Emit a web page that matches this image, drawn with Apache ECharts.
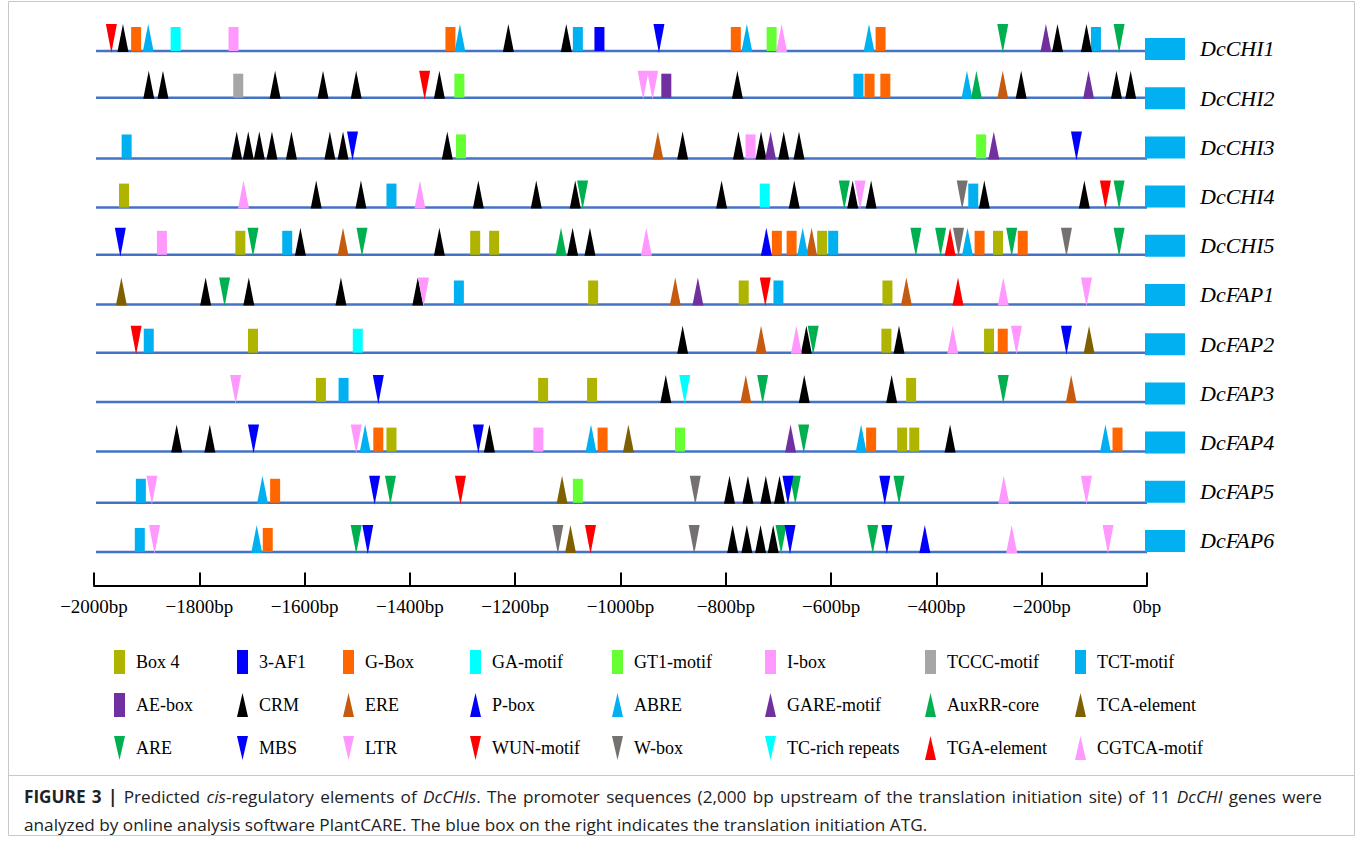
<!DOCTYPE html>
<html><head><meta charset="utf-8">
<script src="https://cdn.jsdelivr.net/npm/echarts@6/dist/echarts.min.js"></script>
<style>html,body{margin:0;padding:0;background:#fff}#c{width:1360px;height:851px}</style>
</head><body><div id="c"></div>
<script>
// ---------------- DATA ----------------
const genes = ['DcCHI1','DcCHI2','DcCHI3','DcCHI4','DcCHI5','DcFAP1','DcFAP2','DcFAP3','DcFAP4','DcFAP5','DcFAP6'];
const elementTypes = ['Box 4','3-AF1','G-Box','GA-motif','GT1-motif','I-box','TCCC-motif','TCT-motif',
  'AE-box','CRM','ERE','P-box','ABRE','GARE-motif','AuxRR-core','TCA-element',
  'ARE','MBS','LTR','WUN-motif','W-box','TC-rich repeats','TGA-element','CGTCA-motif'];
const tickValues = [-2000,-1800,-1600,-1400,-1200,-1000,-800,-600,-400,-200,0];
const tickLabels = ['\u22122000bp','\u22121800bp','\u22121600bp','\u22121400bp','\u22121200bp','\u22121000bp','\u2212800bp','\u2212600bp','\u2212400bp','\u2212200bp','0bp'];

const DcCHI1 = [[-1967,'WUN-motif'],[-1945,'CRM'],[-1920,'G-Box'],[-1897,'ABRE'],[-1845,'GA-motif'],[-1735,'I-box'],[-1323,'G-Box'],[-1305,'ABRE'],[-1213,'CRM'],[-1103,'CRM'],[-1081,'TCT-motif'],[-1040,'3-AF1'],[-927,'MBS'],[-781,'G-Box'],[-760,'ABRE'],[-713,'GT1-motif'],[-694,'CGTCA-motif'],[-528,'ABRE'],[-506,'G-Box'],[-274,'ARE'],[-192,'GARE-motif'],[-170,'CRM'],[-115,'CRM'],[-97,'TCT-motif'],[-53,'ARE']];
const DcCHI2 = [[-1896,'CRM'],[-1869,'CRM'],[-1726,'TCCC-motif'],[-1656,'CRM'],[-1565,'CRM'],[-1502,'CRM'],[-1372,'WUN-motif'],[-1344,'CRM'],[-1306,'GT1-motif'],[-957,'LTR'],[-939,'LTR'],[-913,'AE-box'],[-778,'CRM'],[-548,'TCT-motif'],[-527,'G-Box'],[-497,'G-Box'],[-342,'ABRE'],[-324,'AuxRR-core'],[-274,'ERE'],[-239,'CRM'],[-111,'GARE-motif'],[-58,'CRM'],[-31,'CRM']];
const DcCHI3 = [[-1938,'TCT-motif'],[-1729,'CRM'],[-1707,'CRM'],[-1686,'CRM'],[-1662,'CRM'],[-1625,'CRM'],[-1552,'CRM'],[-1527,'CRM'],[-1509,'MBS'],[-1329,'CRM'],[-1303,'GT1-motif'],[-929,'ERE'],[-882,'CRM'],[-776,'CRM'],[-753,'I-box'],[-733,'CRM'],[-715,'GARE-motif'],[-690,'CRM'],[-661,'CRM'],[-315,'GT1-motif'],[-291,'GARE-motif'],[-134,'MBS']];
const DcCHI4 = [[-1943,'Box 4'],[-1716,'CGTCA-motif'],[-1578,'CRM'],[-1493,'CRM'],[-1435,'TCT-motif'],[-1381,'CGTCA-motif'],[-1270,'CRM'],[-1160,'CRM'],[-1086,'CRM'],[-1072,'ARE'],[-808,'CRM'],[-726,'GA-motif'],[-670,'CRM'],[-575,'ARE'],[-559,'CRM'],[-545,'LTR'],[-524,'CRM'],[-351,'W-box'],[-330,'TCT-motif'],[-309,'CRM'],[-119,'CRM'],[-79,'WUN-motif'],[-53,'ARE']];
const DcCHI5 = [[-1950,'MBS'],[-1871,'I-box'],[-1722,'Box 4'],[-1698,'ARE'],[-1633,'TCT-motif'],[-1608,'CRM'],[-1527,'ERE'],[-1491,'ARE'],[-1344,'CRM'],[-1276,'Box 4'],[-1240,'Box 4'],[-1113,'AuxRR-core'],[-1091,'CRM'],[-1058,'CRM'],[-951,'CGTCA-motif'],[-723,'P-box'],[-703,'G-Box'],[-675,'G-Box'],[-654,'ABRE'],[-637,'ERE'],[-617,'Box 4'],[-596,'TCT-motif'],[-439,'ARE'],[-392,'ARE'],[-374,'TGA-element'],[-358,'W-box'],[-341,'ABRE'],[-318,'G-Box'],[-283,'Box 4'],[-257,'ARE'],[-236,'G-Box'],[-153,'W-box'],[-53,'ARE']];
const DcFAP1 = [[-1948,'TCA-element'],[-1788,'CRM'],[-1752,'ARE'],[-1706,'CRM'],[-1531,'CRM'],[-1385,'CRM'],[-1374,'LTR'],[-1307,'TCT-motif'],[-1052,'Box 4'],[-896,'ERE'],[-853,'GARE-motif'],[-766,'Box 4'],[-725,'WUN-motif'],[-700,'TCT-motif'],[-493,'Box 4'],[-457,'ERE'],[-359,'TGA-element'],[-273,'CGTCA-motif'],[-115,'LTR']];
const DcFAP2 = [[-1920,'WUN-motif'],[-1896,'TCT-motif'],[-1698,'Box 4'],[-1499,'GA-motif'],[-882,'CRM'],[-733,'ERE'],[-666,'CGTCA-motif'],[-647,'CRM'],[-634,'ARE'],[-495,'Box 4'],[-471,'CRM'],[-369,'CGTCA-motif'],[-300,'Box 4'],[-274,'G-Box'],[-248,'LTR'],[-153,'MBS'],[-110,'TCA-element']];
const DcFAP3 = [[-1731,'LTR'],[-1569,'Box 4'],[-1526,'TCT-motif'],[-1460,'MBS'],[-1147,'Box 4'],[-1054,'Box 4'],[-914,'CRM'],[-878,'TC-rich repeats'],[-762,'ERE'],[-730,'ARE'],[-651,'CRM'],[-485,'CRM'],[-448,'Box 4'],[-273,'ARE'],[-144,'ERE']];
const DcFAP4 = [[-1843,'CRM'],[-1780,'CRM'],[-1697,'MBS'],[-1502,'LTR'],[-1485,'ABRE'],[-1460,'G-Box'],[-1435,'Box 4'],[-1270,'MBS'],[-1249,'CRM'],[-1156,'I-box'],[-1056,'ABRE'],[-1034,'G-Box'],[-985,'TCA-element'],[-887,'GT1-motif'],[-677,'GARE-motif'],[-652,'ARE'],[-543,'ABRE'],[-524,'G-Box'],[-465,'Box 4'],[-442,'Box 4'],[-374,'CRM'],[-79,'ABRE'],[-56,'G-Box']];
const DcFAP5 = [[-1911,'TCT-motif'],[-1890,'LTR'],[-1680,'ABRE'],[-1656,'G-Box'],[-1467,'MBS'],[-1437,'ARE'],[-1304,'WUN-motif'],[-1111,'TCA-element'],[-1081,'GT1-motif'],[-858,'W-box'],[-793,'CRM'],[-758,'CRM'],[-724,'CRM'],[-698,'CRM'],[-682,'MBS'],[-668,'ARE'],[-498,'MBS'],[-471,'ARE'],[-272,'CGTCA-motif'],[-115,'LTR']];
const DcFAP6 = [[-1913,'TCT-motif'],[-1885,'LTR'],[-1691,'ABRE'],[-1670,'G-Box'],[-1502,'ARE'],[-1480,'MBS'],[-1119,'W-box'],[-1095,'TCA-element'],[-1057,'WUN-motif'],[-860,'W-box'],[-787,'CRM'],[-760,'CRM'],[-734,'CRM'],[-710,'CRM'],[-695,'ARE'],[-678,'MBS'],[-521,'ARE'],[-494,'MBS'],[-422,'P-box'],[-257,'CGTCA-motif'],[-74,'LTR']];
const geneElements = [DcCHI1,DcCHI2,DcCHI3,DcCHI4,DcCHI5,DcFAP1,DcFAP2,DcFAP3,DcFAP4,DcFAP5,DcFAP6];

// caption (runs: [text, style]; b = bold, i = italic, n = normal)
const captionLine1 = [
  [['FIGURE','b']],[['3','b']],[['|','b']],[['Predicted','n']],[['cis','i'],['-regulatory','n']],[['elements','n']],[['of','n']],
  [['DcCHIs','i'],['.','n']],[['The','n']],[['promoter','n']],[['sequences','n']],[['(2,000','n']],[['bp','n']],[['upstream','n']],
  [['of','n']],[['the','n']],[['translation','n']],[['initiation','n']],[['site)','n']],[['of','n']],[['11','n']],[['DcCHI','i']],[['genes','n']],[['were','n']]
];
const captionLine2 = 'analyzed by online analysis software PlantCARE. The blue box on the right indicates the translation initiation ATG.';

// ---------------- STYLE / LAYOUT ----------------
const COLORS = {
  'Box 4':'#AEB400','3-AF1':'#0000FF','G-Box':'#FF6600','GA-motif':'#00FFFF','GT1-motif':'#66FF33','I-box':'#FF99FF','TCCC-motif':'#A6A6A6','TCT-motif':'#00B0F0',
  'AE-box':'#7030A0','CRM':'#000000','ERE':'#C55A11','P-box':'#0000FF','ABRE':'#00B0F0','GARE-motif':'#7030A0','AuxRR-core':'#00B050','TCA-element':'#7F6000',
  'ARE':'#00B050','MBS':'#0000FF','LTR':'#FF99FF','WUN-motif':'#FF0000','W-box':'#767171','TC-rich repeats':'#00FFFF','TGA-element':'#FF0000','CGTCA-motif':'#FF99FF'
};
function shapeOf(i){ if(i<=8) return 'rect'; if(i>=16 && i<=21) return 'down'; return 'up'; }
const lineOffset = [2,-0.5,11,11,9,9.5,8.5,8.5,9,11,11]; // px offset of each promoter line from its label row
const RW = 10, RH = 24, TW = 11, TH = 27;
const SERIF = "'Liberation Serif','Times New Roman',serif";
const CAP_SIZE = 17.2;
const CAP_FAMILY = "'Open Sans',sans-serif";
const CAP_FONTS = {
  b: 'bold ' + CAP_SIZE + 'px ' + CAP_FAMILY,
  i: 'italic ' + CAP_SIZE + 'px ' + CAP_FAMILY,
  n: CAP_SIZE + 'px ' + CAP_FAMILY
};

const ICONS = {
  rect: 'rect',
  up: 'path://M5.5,0L11,24L0,24Z',
  down: 'path://M0,0L11,0L5.5,24Z'
};

function markRenderer(shape, color){
  return function(params, api){
    const g = api.value(1);
    const p = api.coord([api.value(0), g]);
    const x = p[0], y = p[1] + lineOffset[g];
    if (shape === 'rect') {
      return {type:'rect', shape:{x:x-RW/2, y:y-RH, width:RW, height:RH}, style:{fill:color}};
    }
    if (shape === 'up') {
      return {type:'polygon', shape:{points:[[x-TW/2,y+1],[x+TW/2,y+1],[x,y-TH]]}, style:{fill:color}};
    }
    return {type:'polygon', shape:{points:[[x-TW/2,y-TH],[x+TW/2,y-TH],[x,y+2]]}, style:{fill:color}};
  };
}

const series = [];
series.push({
  type:'custom', name:'_genes', clip:false, silent:true, z:1,
  data: genes.map((g,i)=>({value:[0,i], name:g})),
  renderItem: function(params, api){
    const i = api.value(1);
    const p0 = api.coord([-2000, i]);
    const p1 = api.coord([0, i]);
    const ly = p0[1] + lineOffset[i];
    return {type:'group', children:[
      {type:'line', shape:{x1:p0[0]+2, y1:ly, x2:p1[0], y2:ly}, style:{stroke:'#4472C4', lineWidth:2.5}},
      {type:'rect', shape:{x:p1[0]-2, y:p1[1]-11, width:40, height:22}, style:{fill:'#00B0F0'}},
      {type:'text', style:{x:p1[0]+53, y:p1[1], text:genes[i], fill:'#000', font:"italic 22px " + SERIF, verticalAlign:'middle'}}
    ]};
  }
});
elementTypes.forEach((t, ti) => {
  const data = [];
  geneElements.forEach((arr, gi) => arr.forEach(e => { if (e[1] === t) data.push([e[0], gi]); }));
  series.push({
    type:'custom', name:t, clip:false, z:2,
    itemStyle:{color:COLORS[t]},
    data:data,
    renderItem: markRenderer(shapeOf(ti), COLORS[t])
  });
});

const legendLeft = [109, 232, 338, 465, 607, 760, 920, 1070];
const legends = legendLeft.map((l, j) => ({
  orient:'vertical', left:l, top:645, itemWidth:11, itemHeight:24, itemGap:19,
  selectedMode:false,
  data:[0,8,16].map(k => ({name:elementTypes[j+k], icon:ICONS[shapeOf(j+k)]})),
  textStyle:{fontFamily:SERIF, fontSize:18, color:'#000', padding:[0,0,0,6]}
}));

// justified first caption line
const ctx = document.createElement('canvas').getContext('2d');
function measure(text, st){ ctx.font = CAP_FONTS[st]; return ctx.measureText(text).width; }
const capLeft = 24, capRight = 1322, capTop1 = 788, capTop2 = 816;
const wordWidths = captionLine1.map(w => w.reduce((s, r) => s + measure(r[0], r[1]), 0));
const totalW = wordWidths.reduce((a,b)=>a+b, 0);
const gap = (capRight - capLeft - totalW) / (captionLine1.length - 1);
const captionGraphics = [];
let cx = capLeft;
captionLine1.forEach((w, wi) => {
  let rx = cx;
  w.forEach(r => {
    captionGraphics.push({type:'text', x:rx, y:capTop1, silent:true,
      style:{text:r[0], font:CAP_FONTS[r[1]], fill:'#222', verticalAlign:'top'}});
    rx += measure(r[0], r[1]);
  });
  cx += wordWidths[wi] + gap;
});
captionGraphics.push({type:'text', x:capLeft, y:capTop2, silent:true,
  style:{text:captionLine2, font:CAP_FONTS.n, fill:'#222', verticalAlign:'top'}});

const chart = echarts.init(document.getElementById('c'), null, {renderer:'svg'});
chart.setOption({
  animation:false,
  backgroundColor:'#fff',
  grid:{left:94, right:213, top:4.72, bottom:265.5, containLabel:false},
  xAxis:{
    type:'value', min:-2000, max:0, interval:200, position:'bottom',
    axisLine:{show:true, onZero:false, lineStyle:{color:'#000', width:2}},
    axisTick:{show:true, inside:true, length:13, lineStyle:{color:'#000', width:2}},
    splitLine:{show:false},
    axisLabel:{margin:11, color:'#000', fontFamily:SERIF, fontSize:19,
      formatter: v => tickLabels[tickValues.indexOf(v)]}
  },
  yAxis:{type:'value', min:-0.9, max:10.905, inverse:true, show:false},
  legend: legends,
  series: series,
  graphic:[
    {type:'rect', shape:{x:8.5, y:1.5, width:1346, height:834}, style:{fill:'none', stroke:'#c8c8c8', lineWidth:1}, silent:true, z:-10},
    {type:'line', shape:{x1:8.5, y1:775.5, x2:1354.5, y2:775.5}, style:{stroke:'#c8c8c8', lineWidth:1}, silent:true}
  ].concat(captionGraphics)
});
</script>
</body></html>
